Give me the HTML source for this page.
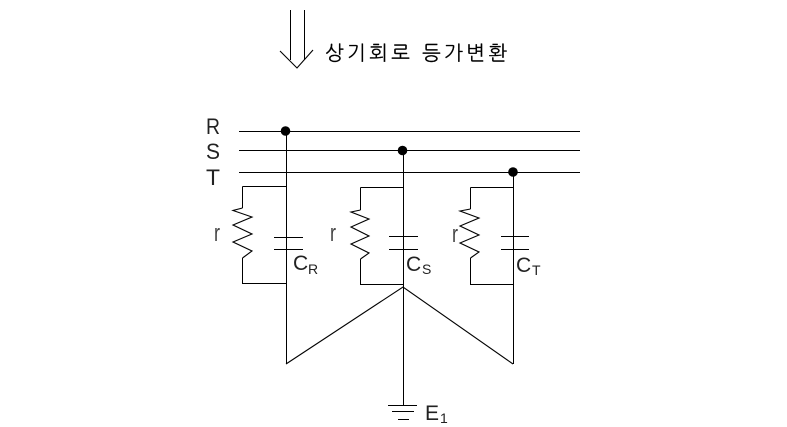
<!DOCTYPE html>
<html><head><meta charset="utf-8"><style>
html,body{margin:0;padding:0;background:#fff}
svg{display:block}
.l{font-family:"Liberation Sans",sans-serif;fill:#222}
</style></head><body>
<svg width="787" height="427" viewBox="0 0 787 427" xmlns="http://www.w3.org/2000/svg">
<g fill="none" stroke="#000" stroke-width="1" shape-rendering="crispEdges">
<path d="M239 131.500H580M239 150.500H580M239 172.500H580"/>
<path d="M286.500 131V364M403.500 150V405M513.500 172V364"/>
<path d="M242.500 186.500H286M242.500 186.500V208M242.500 258V283.500H286"/>
<path d="M360.500 187.500H403M360.500 187.500V210M360.500 259V284.500H403"/>
<path d="M470.500 187.500H513M470.500 187.500V209M470.500 258V284.500H513"/>
<path d="M274 237.500H303M274 249.500H303M389 236.500H418M389 249.500H418M501 236.500H529M501 249.500H529"/>
<path d="M388 405.500H417M392 411.500H414M398 419.500H409"/>
<path d="M290.500 10V60M304.500 10V60"/>
</g>
<g fill="none" stroke="#000" stroke-width="1.100">
<path d="M242.500 208L233 210.500L252 217L233 225L252 234L233 242L252 251L242.500 258"/>
<path d="M360.500 210L351 212L369 219L351 227L369 236L351 244L369 253L360.500 259"/>
<path d="M470.500 209L460 211L479 218L460 226L479 235L460 243L479 252L470.500 258"/>
<path d="M286 364L403 287L513 364"/>
<path d="M280 51L297 68L313 50"/>
</g>
<circle cx="285.500" cy="131" r="4.800"/>
<circle cx="402.500" cy="150.500" r="4.800"/>
<circle cx="513" cy="172" r="4.800"/>
<g class="l" font-size="22">
<text x="206" y="134" textLength="14" lengthAdjust="spacingAndGlyphs">R</text>
<text x="206" y="159" textLength="14" lengthAdjust="spacingAndGlyphs">S</text>
<text x="206" y="185" textLength="14" lengthAdjust="spacingAndGlyphs">T</text>
</g>
<g class="l" font-size="21">
<text x="293" y="270">C</text>
<text x="406" y="271">C</text>
<text x="516" y="272">C</text>
<text x="425" y="420">E</text>
</g>
<g class="l" font-size="24" fill-opacity="0.85">
<text x="214" y="241" textLength="6" lengthAdjust="spacingAndGlyphs">r</text>
<text x="330" y="241" textLength="6" lengthAdjust="spacingAndGlyphs">r</text>
<text x="452" y="242" textLength="6" lengthAdjust="spacingAndGlyphs">r</text>
</g>
<g class="l" font-size="14">
<text x="308" y="274">R</text>
<text x="422" y="274">S</text>
<text x="532" y="275">T</text>
<text x="440" y="423">1</text>
</g>
<text x="325" y="60" font-family="'Liberation Sans','NanumGothic','Noto Sans CJK KR',sans-serif" font-size="20" fill="#000" stroke="#000" stroke-width="0.200" textLength="182" lengthAdjust="spacing">상기회로 등가변환</text>
</svg>
</body></html>
